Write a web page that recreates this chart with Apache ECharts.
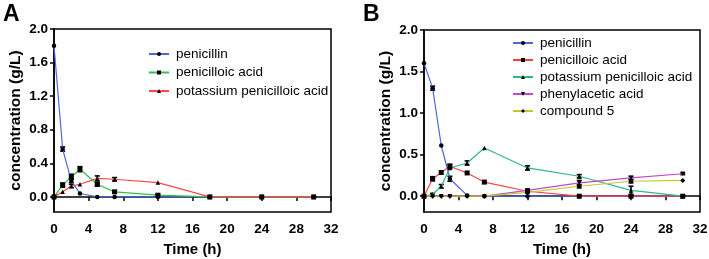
<!DOCTYPE html>
<html>
<head>
<meta charset="utf-8">
<script src="https://cdn.jsdelivr.net/npm/echarts@6/dist/echarts.min.js"></script>
<style>
  html, body { margin: 0; padding: 0; background: #fff; }
  #main { width: 709px; height: 259px; }
</style>
</head>
<body>
<div id="main"></div>
<script>
// time points (h)
var timesA = [0, 1, 2, 3, 5, 7, 12, 18, 24, 30];
var timesB = [0, 1, 2, 3, 5, 7, 12, 18, 24, 30];

// panel A values (g/L)
var penicillinA = [1.80, 0.57, 0.19, 0.04, 0, 0, 0, 0, 0, 0];
var penicilloicA = [0, 0.14, 0.24, 0.33, 0.15, 0.06, 0.02, 0, 0, 0];
var potassiumA = [0, 0.06, 0.13, 0.15, 0.22, 0.21, 0.17, 0, 0, 0];
// panel A error (+/-)
var penicillinAErr = [0, 0.025, 0.02, 0, 0, 0, 0, 0, 0, 0];
var penicilloicAErr = [0, 0.025, 0.03, 0.03, 0.02, 0.01, 0.01, 0, 0, 0];
var potassiumAErr = [0, 0, 0.02, 0, 0.03, 0.02, 0, 0, 0, 0];

// panel B values (g/L)
var penicillinB = [1.60, 1.30, 0.61, 0.21, 0.01, 0, 0, 0, 0, 0];
var penicilloicB = [0, 0.21, 0.285, 0.36, 0.28, 0.17, 0.06, 0, 0, 0];
var potassiumB = [0, 0.02, 0.12, 0.34, 0.40, 0.58, 0.34, 0.24, 0.07, 0];
var phenylaceticB = [0, 0, 0, 0, 0, 0, 0.07, 0.16, 0.22, 0.27];
var compound5B = [0, 0, 0, 0, 0, 0, 0.045, 0.12, 0.18, 0.19];
var penicillinBErr = [0, 0.025, 0, 0.03, 0, 0, 0, 0, 0, 0];
var penicilloicBErr = [0, 0.025, 0, 0.025, 0, 0, 0, 0, 0, 0];
var potassiumBErr = [0, 0.015, 0.02, 0, 0.025, 0, 0.025, 0.02, 0.05, 0];
var phenylaceticBErr = [0, 0, 0, 0, 0, 0, 0.015, 0.03, 0.02, 0.01];
var compound5BErr = [0, 0, 0, 0, 0, 0, 0, 0.02, 0.02, 0];

var yTicksA = [0, 0.4, 0.8, 1.2, 1.6, 2.0];
var yTicksB = [0, 0.5, 1.0, 1.5, 2.0];

var FONT = 'Liberation Sans, Arial, sans-serif';

function pairs(xs, ys) {
  var out = [];
  for (var i = 0; i < xs.length; i++) out.push([xs[i], ys[i]]);
  return out;
}

function errData(xs, ys, es) {
  var out = [];
  for (var i = 0; i < xs.length; i++) {
    if (es[i] > 0) out.push([xs[i], ys[i], es[i]]);
  }
  return out;
}

function lineSeries(name, idx, xs, ys, color, symbol, size, rotate) {
  return {
    name: name,
    type: 'line',
    xAxisIndex: idx,
    yAxisIndex: idx,
    data: pairs(xs, ys),
    symbol: symbol,
    symbolSize: size,
    symbolRotate: rotate || 0,
    showAllSymbol: true,
    lineStyle: { color: color, width: 1.2 },
    itemStyle: { color: '#000' },
    emphasis: { disabled: true },
    animation: false
  };
}

function errSeries(idx, xs, ys, es) {
  return {
    type: 'custom',
    xAxisIndex: idx,
    yAxisIndex: idx,
    data: errData(xs, ys, es),
    silent: true,
    animation: false,
    z: 3,
    renderItem: function (params, api) {
      var hi = api.coord([api.value(0), api.value(1) + api.value(2)]);
      var lo = api.coord([api.value(0), api.value(1) - api.value(2)]);
      var w = 2.5;
      var st = { stroke: '#000', lineWidth: 1.6 };
      return {
        type: 'group',
        children: [
          { type: 'line', shape: { x1: hi[0], y1: hi[1], x2: lo[0], y2: lo[1] }, style: st },
          { type: 'line', shape: { x1: hi[0] - w, y1: hi[1], x2: hi[0] + w, y2: hi[1] }, style: st },
          { type: 'line', shape: { x1: lo[0] - w, y1: lo[1], x2: lo[0] + w, y2: lo[1] }, style: st }
        ]
      };
    }
  };
}

function xAxisCfg(idx) {
  return {
    type: 'value',
    gridIndex: idx,
    min: 0,
    max: 32,
    interval: 4,
    name: 'Time (h)',
    nameLocation: 'middle',
    nameGap: 30,
    nameTextStyle: { fontFamily: FONT, fontWeight: 'bold', fontSize: 15, color: '#000' },
    axisLine: { show: true, lineStyle: { color: '#000', width: 1.5 } },
    axisTick: { show: true, inside: false, length: 4, lineStyle: { color: '#000', width: 1.5 } },
    axisLabel: { fontFamily: FONT, fontWeight: 'bold', fontSize: 13.5, color: '#000', margin: 10 },
    splitLine: { show: false }
  };
}

function yAxisCfg(idx, min, ticks) {
  return {
    type: 'value',
    gridIndex: idx,
    min: min,
    max: 2.0,
    name: 'concentration (g/L)',
    nameLocation: 'middle',
    nameGap: 30,
    nameTextStyle: { fontFamily: FONT, fontWeight: 'bold', fontSize: 15.5, color: '#000' },
    axisLine: { show: true, onZero: false, lineStyle: { color: '#000', width: 1.5 } },
    axisTick: { show: true, length: 4, customValues: ticks, lineStyle: { color: '#000', width: 1.5 } },
    axisLabel: {
      fontFamily: FONT, fontWeight: 'bold', fontSize: 13.5, color: '#000', margin: 6,
      customValues: ticks,
      formatter: function (v) { return v.toFixed(1); }
    },
    splitLine: { show: false }
  };
}

function legendCfg(left, top, names, gap) {
  return {
    orient: 'vertical',
    left: left,
    top: top,
    itemWidth: 20,
    itemHeight: 5,
    itemGap: gap,
    data: names,
    selectedMode: false,
    textStyle: { fontFamily: FONT, fontSize: 13.5, color: '#000', padding: [0, 0, 0, 2], lineHeight: 14 }
  };
}

var namesA = ['penicillin', 'penicilloic acid', 'potassium penicilloic acid'];
var namesB = ['penicillin ', 'penicilloic acid ', 'potassium penicilloic acid ', 'phenylacetic acid', 'compound 5'];

var chart = echarts.init(document.getElementById('main'), null, { renderer: 'canvas' });

var option = {
  backgroundColor: '#fff',
  animation: false,
  grid: [
    { left: 54, top: 29, width: 277, height: 183, show: true, borderColor: '#000', borderWidth: 1.5,
      containLabel: false, outerBoundsMode: 'none' },
    { left: 424, top: 30, width: 276, height: 182, show: true, borderColor: '#000', borderWidth: 1.5,
      containLabel: false, outerBoundsMode: 'none' }
  ],
  xAxis: [xAxisCfg(0), xAxisCfg(1)],
  yAxis: [yAxisCfg(0, -0.18, yTicksA), yAxisCfg(1, -0.19, yTicksB)],
  legend: [
    legendCfg(143, 42, namesA, 4.5),
    legendCfg(507, 31, namesB, 3)
  ],
  graphic: [
    { type: 'text', left: 3, top: 3, style: { text: 'A', fontFamily: FONT, fontWeight: 'bold', fontSize: 23, fill: '#000' } },
    { type: 'text', left: 363, top: 3, style: { text: 'B', fontFamily: FONT, fontWeight: 'bold', fontSize: 23, fill: '#000' } }
  ],
  series: [
    lineSeries(namesA[0], 0, timesA, penicillinA, '#4a6ad6', 'circle', 4.5),
    lineSeries(namesA[1], 0, timesA, penicilloicA, '#35c04a', 'rect', 5),
    lineSeries(namesA[2], 0, timesA, potassiumA, '#ff4848', 'triangle', 4.5),
    errSeries(0, timesA, penicillinA, penicillinAErr),
    errSeries(0, timesA, penicilloicA, penicilloicAErr),
    errSeries(0, timesA, potassiumA, potassiumAErr),

    lineSeries(namesB[0], 1, timesB, penicillinB, '#4a6ad6', 'circle', 4.5),
    lineSeries(namesB[1], 1, timesB, penicilloicB, '#ff4040', 'rect', 5),
    lineSeries(namesB[2], 1, timesB, potassiumB, '#2ab98a', 'triangle', 4.5),
    lineSeries(namesB[3], 1, timesB, phenylaceticB, '#c448c8', 'triangle', 4.5, 180),
    lineSeries(namesB[4], 1, timesB, compound5B, '#c9c62c', 'diamond', 5),
    errSeries(1, timesB, penicillinB, penicillinBErr),
    errSeries(1, timesB, penicilloicB, penicilloicBErr),
    errSeries(1, timesB, potassiumB, potassiumBErr),
    errSeries(1, timesB, phenylaceticB, phenylaceticBErr),
    errSeries(1, timesB, compound5B, compound5BErr)
  ]
};

chart.setOption(option);
</script>
</body>
</html>
